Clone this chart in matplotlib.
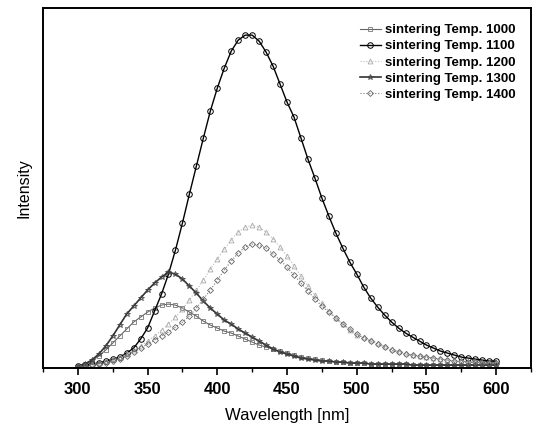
import numpy as np
import matplotlib
matplotlib.use("Agg")
import matplotlib.pyplot as plt

plt.rcParams['font.family'] = ['Liberation Sans', 'DejaVu Sans']

wavelength = list(range(300, 605, 5))

temp_1000 = [0, 2, 5, 10, 16, 23, 30, 37, 44, 49, 54, 58, 61, 62, 61, 58, 54, 50, 45, 41,
             38, 35, 33, 30, 27, 24, 21, 19, 17, 15, 13, 11, 9, 8, 7, 6, 5, 4, 4, 3,
             3, 3, 2, 2, 2, 2, 2, 2, 1, 1, 1, 1, 1, 1, 1, 1, 1, 1, 1, 1, 1]
temp_1100 = [0, 1, 2, 3, 5, 7, 9, 13, 18, 27, 38, 55, 72, 92, 116, 143, 172, 200, 228, 255,
             278, 298, 315, 326, 331, 331, 325, 314, 300, 282, 264, 249, 228, 207, 188, 168, 150, 133, 118, 104,
             92, 79, 68, 59, 51, 44, 38, 33, 29, 25, 21, 18, 15, 13, 11, 9, 8, 7, 6, 5, 5]
temp_1200 = [0, 1, 2, 3, 5, 7, 9, 12, 16, 20, 25, 30, 36, 42, 49, 57, 66, 76, 86, 97,
             107, 117, 126, 134, 139, 141, 139, 134, 127, 119, 110, 100, 90, 80, 71, 63, 55, 48, 42, 36,
             31, 29, 26, 23, 20, 17, 15, 13, 11, 10, 9, 8, 7, 6, 5, 5, 4, 4, 3, 3, 3]
temp_1300 = [0, 2, 6, 12, 20, 30, 41, 52, 60, 68, 76, 83, 89, 94, 92, 87, 80, 73, 65, 58,
             52, 46, 42, 37, 33, 29, 25, 21, 17, 14, 12, 10, 8, 7, 6, 5, 5, 4, 4, 3,
             3, 3, 2, 2, 2, 2, 2, 2, 1, 1, 1, 1, 1, 1, 1, 1, 1, 1, 1, 1, 1]
temp_1400 = [0, 0, 1, 2, 3, 5, 7, 10, 14, 18, 22, 26, 30, 34, 39, 44, 50, 58, 67, 76,
             86, 96, 105, 113, 119, 122, 121, 118, 112, 106, 99, 91, 83, 75, 67, 60, 54, 48, 42, 37,
             32, 28, 25, 22, 19, 16, 14, 12, 11, 10, 9, 8, 7, 6, 5, 5, 4, 4, 3, 3, 3]

labels = ["sintering Temp. 1000", "sintering Temp. 1100", "sintering Temp. 1200",
          "sintering Temp. 1300", "sintering Temp. 1400"]

fig = plt.figure(figsize=(5.37, 4.28), dpi=100)
ax = fig.add_axes([0.080, 0.140, 0.909, 0.841])

ax.plot(wavelength, temp_1000, color='#666666', lw=0.8, marker='s', ms=3.2,
        mfc='none', mec='#777777', mew=0.6, label=labels[0])
ax.plot(wavelength, temp_1100, color='black', lw=1.0, marker='o', ms=4,
        mfc='none', mec='black', mew=0.7, label=labels[1])
ax.plot(wavelength, temp_1200, color='#bbbbbb', lw=0.8, ls=':', marker='^', ms=3.5,
        mfc='none', mec='#aaaaaa', mew=0.6, label=labels[2])
ax.plot(wavelength, temp_1300, color='#333333', lw=1.2, marker='*', ms=4,
        mfc='none', mec='#444444', mew=0.6, label=labels[3])
ax.plot(wavelength, temp_1400, color='#777777', lw=0.8, ls=':', marker='D', ms=3,
        mfc='none', mec='#666666', mew=0.6, label=labels[4])

ax.set_xlim(275, 625)
ax.set_ylim(-2, 358)
ax.set_xticks(range(300, 601, 50))
ax.set_xticks(range(275, 626, 25), minor=True)
ax.set_yticks([])
ax.tick_params(axis='x', which='major', direction='out', length=5, width=1.2, pad=5)
ax.tick_params(axis='x', which='minor', direction='out', length=3, width=1.0)
for lab in ax.get_xticklabels():
    lab.set_fontweight('bold')
    lab.set_fontsize(12)
for sp in ax.spines.values():
    sp.set_linewidth(1.4)

ax.set_xlabel("Wavelength [nm]", fontsize=12, labelpad=8)
ax.set_ylabel("Intensity", fontsize=11.5, labelpad=8)

leg = ax.legend(loc='upper right', frameon=False, prop={'weight': 'bold', 'size': 9.5},
                handlelength=1.6, handletextpad=0.3, labelspacing=0.3,
                borderaxespad=0.8, markerscale=1.0)

fig.savefig("out.png", dpi=100)
